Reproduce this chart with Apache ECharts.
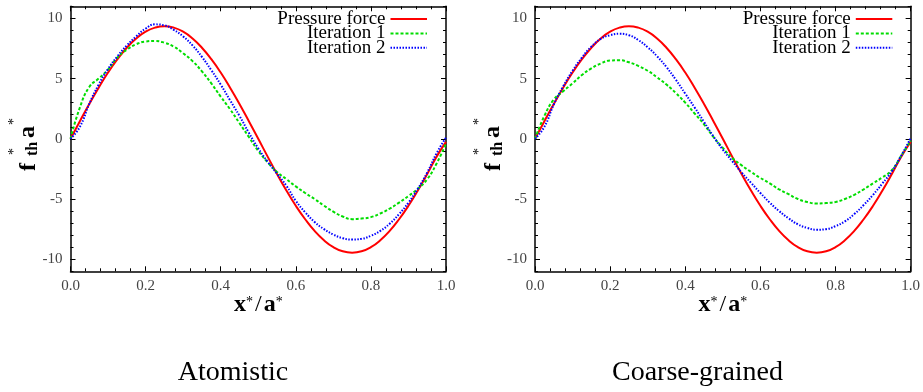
<!DOCTYPE html>
<html>
<head>
<meta charset="utf-8">
<script src="https://cdn.jsdelivr.net/npm/echarts@6/dist/echarts.min.js"></script>
<style>
html,body{margin:0;padding:0;background:#fff;}
#chart{width:923px;height:392px;}
</style>
</head>
<body>
<div id="chart"></div>
<script>
// ---------- data ----------
const xValues = [0,0.025,0.05,0.075,0.1,0.125,0.15,0.175,0.2,0.225,0.25,0.275,0.3,0.325,0.35,0.375,0.4,0.425,0.45,0.475,0.5,0.525,0.55,0.575,0.6,0.625,0.65,0.675,0.7,0.725,0.75,0.775,0.8,0.825,0.85,0.875,0.9,0.925,0.95,0.975,1];

const pressureForce = [0,1.46,2.89,4.24,5.50,6.61,7.56,8.33,8.89,9.23,9.35,9.23,8.89,8.33,7.56,6.61,5.50,4.24,2.89,1.46,0,-1.48,-2.92,-4.29,-5.56,-6.68,-7.65,-8.42,-9.0,-9.34,-9.45,-9.34,-9.0,-8.42,-7.65,-6.68,-5.56,-4.29,-2.92,-1.48,-0.25];

const atomisticIter1 = [0,2.6,4.3,5.0,5.75,6.75,7.4,7.85,8.08,8.12,7.98,7.65,7.1,6.45,5.6,4.6,3.5,2.45,1.3,0.15,-1.0,-1.95,-2.75,-3.35,-3.95,-4.5,-5.0,-5.55,-6.05,-6.45,-6.67,-6.62,-6.5,-6.2,-5.8,-5.3,-4.75,-4.15,-3.35,-2.05,-0.4];
const atomisticIter2 = [0,1.0,2.9,4.5,5.8,6.85,7.75,8.5,9.15,9.5,9.42,9.05,8.5,7.75,6.8,5.7,4.5,3.2,1.9,0.5,-0.8,-1.9,-2.9,-3.9,-5.15,-6.1,-6.9,-7.5,-7.95,-8.25,-8.36,-8.3,-8.05,-7.65,-7.05,-6.25,-5.3,-4.15,-2.8,-1.2,0.1];

const coarseIter1 = [0,1.9,3.25,3.95,4.6,5.3,5.85,6.25,6.5,6.52,6.35,6.05,5.65,5.1,4.5,3.8,3.0,2.1,1.2,0.15,-0.75,-1.6,-2.2,-2.75,-3.25,-3.7,-4.2,-4.6,-5.0,-5.25,-5.37,-5.33,-5.25,-5.0,-4.65,-4.2,-3.7,-3.2,-2.6,-1.4,-0.15];
const coarseIter2 = [0,1.0,2.85,4.35,5.65,6.75,7.65,8.3,8.6,8.72,8.6,8.2,7.6,6.85,5.95,4.9,3.75,2.6,1.4,0.2,-0.9,-1.85,-2.8,-3.65,-4.5,-5.3,-6.0,-6.6,-7.1,-7.4,-7.55,-7.5,-7.25,-6.85,-6.25,-5.5,-4.65,-3.7,-2.7,-1.4,0.05];

const seriesNames = ['Pressure force','Iteration 1','Iteration 2'];
const panelTitles = ['Atomistic','Coarse-grained'];
const yMajorTicks = [-10,-5,0,5,10];
const xRange = [0,1];
const yRange = [-11,11];

// ---------- layout / style ----------
const FONT = '"Liberation Serif","Times New Roman",serif';
const panels = [
  {left:70.5, width:375.5, top:6.3, height:265, legendRight:495, titleX:233, ylabX:36, xlabC:258.3},
  {left:535, width:375.7, top:6.3, height:265, legendRight:29.7, titleX:697.5, ylabX:501, xlabC:722.9}
];
const lineStyles = [
  {color:'#ff0000', width:2, type:'solid'},
  {color:'#00dd00', width:2, type:[3,2]},
  {color:'#0000ff', width:2, type:[1.5,1.5]}
];
const panelData = [[pressureForce, atomisticIter1, atomisticIter2],[pressureForce, coarseIter1, coarseIter2]];

const grid=[], xAxis=[], yAxis=[], series=[], legend=[], graphic=[];
const axisLineStyle = {color:'#000', width:1.5};
const tickStyle = {color:'#000', width:1};

panels.forEach((p, pi) => {
  const gMain = grid.length;
  grid.push({left:p.left, top:p.top, width:p.width, height:p.height, containLabel:false});
  const gMinor = grid.length;
  grid.push({left:p.left, top:p.top, width:p.width, height:p.height, containLabel:false});

  const xb = xAxis.length;
  xAxis.push({gridIndex:gMain, type:'value', position:'bottom', min:xRange[0], max:xRange[1], interval:0.2,
    axisLine:{show:true,onZero:false,lineStyle:axisLineStyle},
    axisTick:{show:true,inside:true,length:5,lineStyle:tickStyle},
    minorTick:{show:true,splitNumber:5,length:3,lineStyle:tickStyle},
    splitLine:{show:false},
    axisLabel:{formatter:v=>v.toFixed(1), fontFamily:FONT, fontSize:15, color:'#444', margin:7}
  });
  xAxis.push({gridIndex:gMain, type:'value', position:'top', min:xRange[0], max:xRange[1], interval:0.2,
    axisLine:{show:true,onZero:false,lineStyle:axisLineStyle},
    axisTick:{show:true,inside:true,length:5,lineStyle:tickStyle},
    minorTick:{show:true,splitNumber:5,length:3,lineStyle:tickStyle},
    splitLine:{show:false}, axisLabel:{show:false}
  });
  xAxis.push({gridIndex:gMinor, type:'value', min:xRange[0], max:xRange[1], show:false});

  const yl = yAxis.length;
  yAxis.push({gridIndex:gMain, type:'value', position:'left', min:yRange[0], max:yRange[1],
    axisLine:{show:true,onZero:false,lineStyle:axisLineStyle},
    axisTick:{show:true,inside:true,length:5,lineStyle:tickStyle,customValues:yMajorTicks},
    splitLine:{show:false},
    axisLabel:{customValues:yMajorTicks, fontFamily:FONT, fontSize:15, color:'#444', margin:8}
  });
  yAxis.push({gridIndex:gMain, type:'value', position:'right', min:yRange[0], max:yRange[1],
    axisLine:{show:true,onZero:false,lineStyle:axisLineStyle},
    axisTick:{show:true,inside:true,length:5,lineStyle:tickStyle,customValues:yMajorTicks},
    splitLine:{show:false}, axisLabel:{show:false}
  });
  yAxis.push({gridIndex:gMinor, type:'value', position:'left', min:yRange[0], max:yRange[1], interval:1,
    axisLine:{show:false}, axisTick:{show:true,inside:true,length:3,lineStyle:tickStyle},
    splitLine:{show:false}, axisLabel:{show:false}
  });
  yAxis.push({gridIndex:gMinor, type:'value', position:'right', min:yRange[0], max:yRange[1], interval:1,
    axisLine:{show:false}, axisTick:{show:true,inside:true,length:3,lineStyle:tickStyle},
    splitLine:{show:false}, axisLabel:{show:false}
  });

  panelData[pi].forEach((arr, si) => {
    series.push({
      name:seriesNames[si], type:'line', xAxisIndex:xb, yAxisIndex:yl,
      data:xValues.map((x,i)=>[x, arr[i]]),
      symbol:'none', smooth:0.5, lineStyle:lineStyles[si], itemStyle:{color:lineStyles[si].color},
      animation:false, z:2+si
    });
    legend.push({
      data:[seriesNames[si]], orient:'vertical', right:p.legendRight, top:9.5+si*14.4,
      itemWidth:36.5, itemHeight:14, itemGap:0, padding:0, align:'right', selectedMode:false,
      itemStyle:{color:'rgba(0,0,0,0)', borderColor:'rgba(0,0,0,0)', borderWidth:0, opacity:0},
      textStyle:{fontFamily:FONT, fontSize:19, color:'#000', lineHeight:14}
    });
  });

  // panel title
  graphic.push({type:'text', x:p.titleX, y:372.5, style:{text:panelTitles[pi], font:'28px '+FONT, fill:'#000', align:'center', verticalAlign:'middle'}});

  // y axis name: f*_th a*
  const S = 14, B = 24;
  graphic.push({type:'group', x:p.ylabX, y:172, rotation:Math.PI/2, children:[
    {type:'text', x:1, y:0.5-0.34*B, style:{text:'f', font:'bold '+B+'px '+FONT, fill:'#000', verticalAlign:'middle'}},
    {type:'text', x:17, y:-22, style:{text:'*', font:S+'px '+FONT, fill:'#000', verticalAlign:'middle'}},
    {type:'text', x:16, y:2.5-0.34*16, style:{text:'th', font:'bold 16px '+FONT, fill:'#000', verticalAlign:'middle'}},
    {type:'text', x:34, y:0-0.34*B, style:{text:'a', font:'bold '+B+'px '+FONT, fill:'#000', verticalAlign:'middle'}},
    {type:'text', x:47, y:-22, style:{text:'*', font:S+'px '+FONT, fill:'#000', verticalAlign:'middle'}}
  ]});

  // x axis name: x*/a*
  const ctx = document.createElement('canvas').getContext('2d');
  const parts = [
    {t:'x', f:'bold '+B+'px '+FONT, y:313-0.34*B, gap:0},
    {t:'*', f:S+'px '+FONT, y:302.5, gap:2},
    {t:'/', f:B+'px '+FONT, y:313-0.34*B, gap:2},
    {t:'a', f:'bold '+B+'px '+FONT, y:313-0.34*B, gap:0},
    {t:'*', f:S+'px '+FONT, y:302.5, gap:0}
  ];
  let total = 0;
  parts.forEach(pt => { ctx.font = pt.f; pt.w = ctx.measureText(pt.t).width; total += pt.w + pt.gap; });
  let cx = p.xlabC - total/2;
  parts.forEach(pt => {
    graphic.push({type:'text', x:cx, y:pt.y, style:{text:pt.t, font:pt.f, fill:'#000', verticalAlign:'middle'}});
    cx += pt.w + pt.gap;
  });
});

const chart = echarts.init(document.getElementById('chart'), null, {renderer:'canvas'});
chart.setOption({
  animation:false,
  backgroundColor:'#fff',
  grid, xAxis, yAxis, series, legend, graphic
});
</script>
</body>
</html>
